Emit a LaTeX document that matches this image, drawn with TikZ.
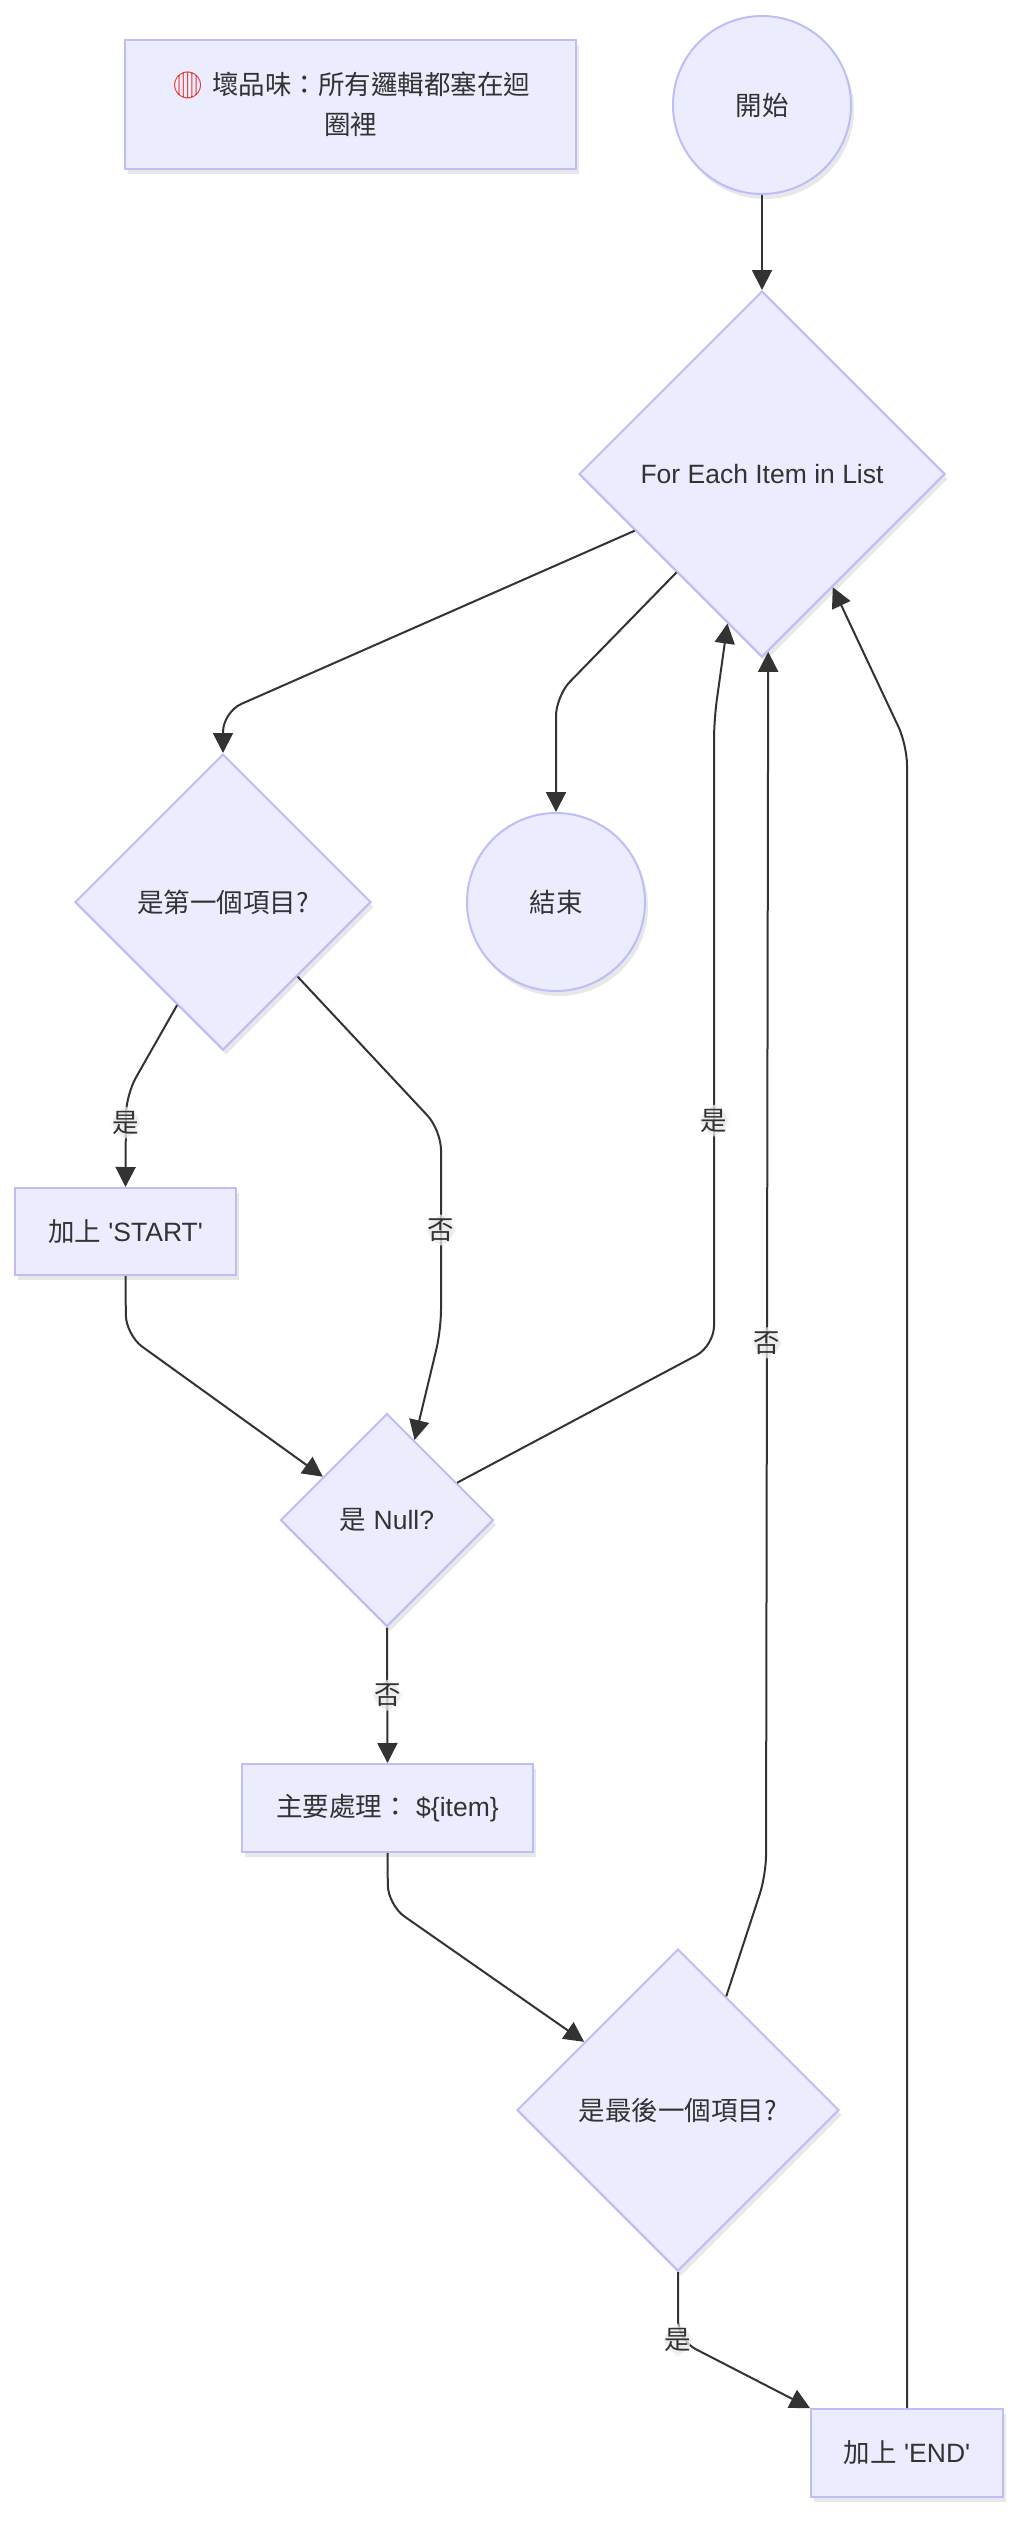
\documentclass[tikz,border=0pt]{standalone}
\usepackage{fontspec}
\setmainfont{Liberation Sans}[Ligatures=TeXOff]
\newfontfamily\cjk{Noto Sans CJK TC}
\newfontfamily\emoji{Noto Emoji}
\usetikzlibrary{shapes.geometric,arrows.meta,shadows}
\definecolor{boxfill}{HTML}{ECECFF}
\definecolor{boxline}{HTML}{BDBDF7}
\definecolor{ink}{HTML}{333333}
\definecolor{dotred}{HTML}{E8392F}
\definecolor{lblfill}{HTML}{E8E8E8}
\begin{document}
\begin{tikzpicture}[x=1pt,y=-1pt,
    every node/.style={text=ink,font=\fontsize{26.5}{40}\selectfont},
    blk/.style={draw=boxline,fill=boxfill,line width=2pt,drop shadow={shadow xshift=3pt,shadow yshift=-5pt,opacity=0.18}},
    proc/.style={blk,rectangle,inner sep=0pt},
    term/.style={blk,circle,minimum size=178pt,inner sep=0pt},
    choice/.style={blk,diamond,aspect=1,inner sep=0pt},
    lbl/.style={fill=lblfill,fill opacity=0.8,text opacity=1,inner xsep=1pt,inner ysep=4pt},
    flow/.style={draw=ink,line width=2pt,-{Triangle[length=20pt,width=20pt]},rounded corners=20pt}]
    \useasboundingbox (0,0) rectangle (1024,2525);
    \node[proc,minimum width=451pt,minimum height=129pt,align=center] (note) at (350.5,104.5) {{\emoji\textcolor{dotred}{🔴}} {\cjk 壞品味：所有邏輯都塞在迴}\\{\cjk 圈裡}};
    \node[term] (start) at (762,105) {\cjk 開始};
    \node[choice,minimum size=366pt] (loop) at (762,474) {For Each Item in List};
    \node[choice,minimum size=296pt] (first) at (223,902) {\cjk 是第一個項目?};
    \node[term] (finish) at (556,902) {\cjk 結束};
    \node[proc,minimum width=221pt,minimum height=87pt] (addstart) at (125.5,1231.5) {{\cjk 加上} 'START'};
    \node[choice,minimum size=213pt] (isnull) at (387,1520) {{\cjk 是} Null?};
    \node[proc,minimum width=291pt,minimum height=88pt] (process) at (387.5,1808) {{\cjk 主要處理：} \$\{item\}};
    \node[choice,minimum size=322pt] (last) at (678,2110) {\cjk 是最後一個項目?};
    \node[proc,minimum width=192pt,minimum height=88pt] (addend) at (907,2453) {{\cjk 加上} 'END'};
    \draw[flow] (start) -- (loop);
    \draw[flow] (loop.204) -- (223,712) -- (first.north);
    \draw[flow] (loop.229) -- (556,696) -- (finish.north);
    \draw[flow] (first.246) -- (126,1095) -- node[lbl,pos=0.3]{\cjk 是} (addstart.north);
    \draw[flow] (first.315) -- (441,1130) -- node[lbl]{\cjk 否} (441,1330) -- (isnull.71);
    \draw[flow] (addstart.south) -- (126,1335) -- (isnull.146);
    \draw[flow] (isnull.28) -- (714,1346) -- node[lbl,pos=0.36]{\cjk 是} (714,720) -- (loop.257);
    \draw[flow] (isnull.south) -- node[lbl]{\cjk 否} (process.north);
    \draw[flow] (process.south) -- (388,1905) -- (last.144);
    \draw[flow] (last.67) -- (766,1875) -- node[lbl,pos=0.435]{\cjk 否} (loop.272);
    \draw[flow] (last.south) -- (678,2340) node[lbl]{\cjk 是} -- (addend.north west);
    \draw[flow] (addend.north) -- (907,745) -- (loop.302);
\end{tikzpicture}
\end{document}
